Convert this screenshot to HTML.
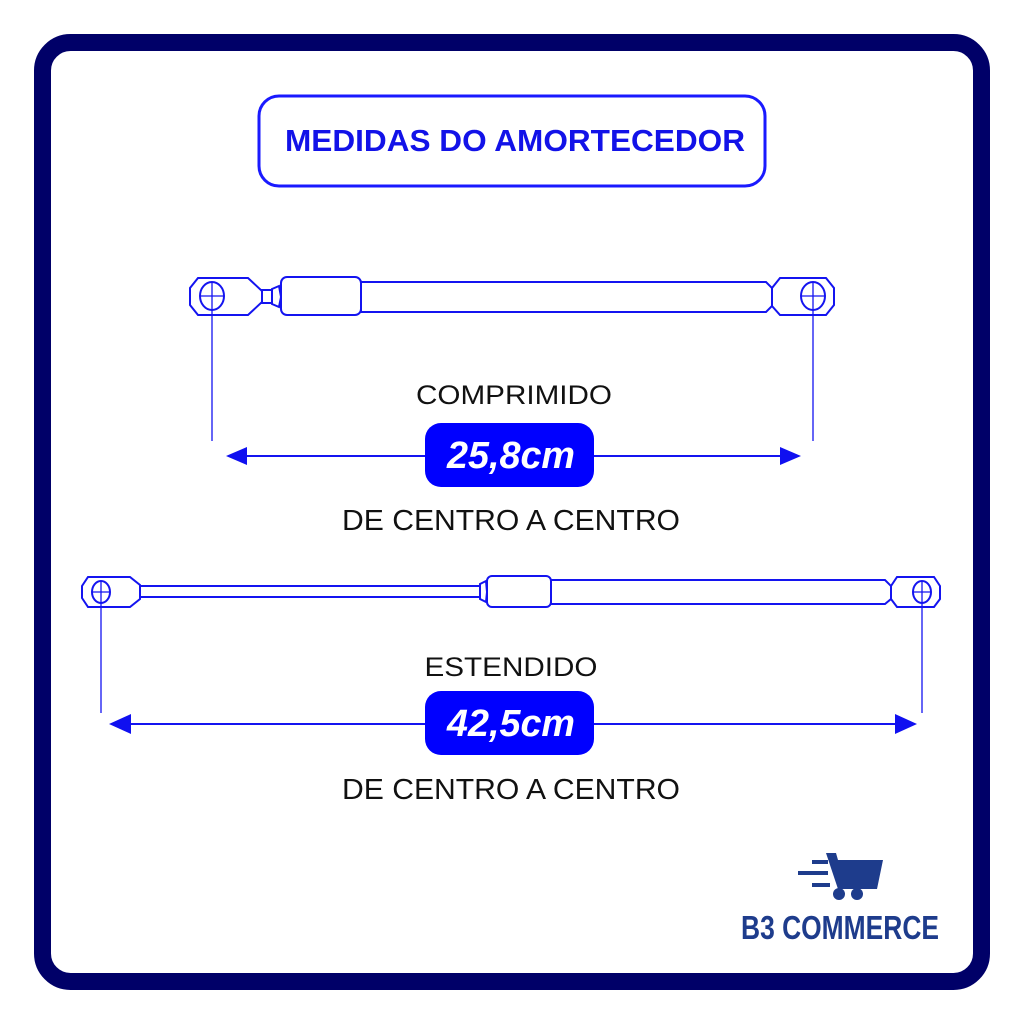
<!DOCTYPE html>
<html><head><meta charset="utf-8"><style>
html,body{margin:0;padding:0;background:#fff;}
svg{display:block}
text{font-family:"Liberation Sans",sans-serif}
</style></head><body>
<svg width="1024" height="1024" viewBox="0 0 1024 1024" xmlns="http://www.w3.org/2000/svg">
<rect x="0" y="0" width="1024" height="1024" fill="#fff"/>
<rect x="42.5" y="42.5" width="939" height="939" rx="28" fill="#fff" stroke="#000068" stroke-width="17"/>
<rect x="259" y="96" width="506" height="90" rx="20" fill="#fff" stroke="#1a1aff" stroke-width="3"/>
<text x="515" y="151" text-anchor="middle" font-size="31" font-weight="bold" fill="#1212e8" textLength="460" lengthAdjust="spacingAndGlyphs">MEDIDAS DO AMORTECEDOR</text>

<g fill="#fff" stroke="#1414f0" stroke-width="2">
<path d="M198 278 L248 278 L262 291 L262 302 L248 315 L198 315 L190 305 L190 288 Z"/>
<rect x="262" y="290" width="10" height="13"/>
<path d="M272 289 L279 286 L281 297 L279 307 L272 304 Z"/>
<rect x="281" y="277" width="80" height="38" rx="6"/>
<path d="M361 282 L766 282 L772 288 L772 306 L766 312 L361 312 Z"/>
<path d="M780 278 L826 278 L834 288 L834 305 L826 315 L780 315 L772 306 L772 288 Z"/>
<path d="M88 577 L130 577 L140 585 L140 599 L130 607 L88 607 L82 598 L82 586 Z"/>
<rect x="140" y="586" width="340" height="11"/>
<path d="M480 584 L486 581 L487 592 L486 602 L480 599 Z"/>
<rect x="487" y="576" width="64" height="31" rx="5"/>
<path d="M551 580 L885 580 L891 586 L891 599 L885 604 L551 604 Z"/>
<path d="M897 577 L934 577 L940 586 L940 599 L934 607 L897 607 L891 599 L891 586 Z"/>
</g>
<g fill="none" stroke="#1414f0" stroke-width="1.3">
<ellipse cx="212" cy="296" rx="12" ry="14" stroke-width="2"/>
<ellipse cx="813" cy="296" rx="12" ry="14" stroke-width="2"/>
<ellipse cx="101" cy="592" rx="9" ry="11" stroke-width="2"/>
<ellipse cx="922" cy="592" rx="9" ry="11" stroke-width="2"/>
<line x1="200" y1="296" x2="224" y2="296"/>
<line x1="801" y1="296" x2="825" y2="296"/>
<line x1="92" y1="592" x2="110" y2="592"/>
<line x1="913" y1="592" x2="931" y2="592"/>
<line x1="212" y1="282" x2="212" y2="441"/>
<line x1="813" y1="282" x2="813" y2="441"/>
<line x1="101" y1="581" x2="101" y2="713"/>
<line x1="922" y1="581" x2="922" y2="713"/>
<line x1="240" y1="456" x2="790" y2="456" stroke-width="2"/>
<line x1="125" y1="724" x2="905" y2="724" stroke-width="2"/>
</g>
<g fill="#1010f0">
<polygon points="226,456 247,447 247,465"/>
<polygon points="801,456 780,447 780,465"/>
<polygon points="109,724 131,714 131,734"/>
<polygon points="917,724 895,714 895,734"/>
</g>
<text x="514" y="404" text-anchor="middle" font-size="27" fill="#111" textLength="196" lengthAdjust="spacingAndGlyphs">COMPRIMIDO</text>
<rect x="425" y="423" width="169" height="64" rx="16" fill="#0000ff"/>
<text x="511" y="468" text-anchor="middle" font-size="38" font-weight="bold" font-style="italic" fill="#fff" textLength="128" lengthAdjust="spacingAndGlyphs">25,8cm</text>
<text x="511" y="530" text-anchor="middle" font-size="29" fill="#111" textLength="338" lengthAdjust="spacingAndGlyphs">DE CENTRO A CENTRO</text>

<text x="511" y="676" text-anchor="middle" font-size="27" fill="#111" textLength="173" lengthAdjust="spacingAndGlyphs">ESTENDIDO</text>
<rect x="425" y="691" width="169" height="64" rx="16" fill="#0000ff"/>
<text x="511" y="736" text-anchor="middle" font-size="38" font-weight="bold" font-style="italic" fill="#fff" textLength="128" lengthAdjust="spacingAndGlyphs">42,5cm</text>
<text x="511" y="799" text-anchor="middle" font-size="29" fill="#111" textLength="338" lengthAdjust="spacingAndGlyphs">DE CENTRO A CENTRO</text>

<g fill="#1e3c8c" stroke="#1e3c8c">
<path d="M826 853 L836 853 L838 860 L883 860 L877 889 L838 889 Z" stroke="none"/>
<line x1="812" y1="862" x2="828" y2="862" stroke-width="4"/>
<line x1="798" y1="873" x2="828" y2="873" stroke-width="4"/>
<line x1="812" y1="885" x2="830" y2="885" stroke-width="4"/>
<circle cx="839" cy="894" r="6" stroke="none"/>
<circle cx="857" cy="894" r="6" stroke="none"/>
</g>
<text x="840" y="939" text-anchor="middle" font-size="33" font-weight="bold" fill="#1e3c8c" textLength="198" lengthAdjust="spacingAndGlyphs">B3 COMMERCE</text>
</svg>
</body></html>
